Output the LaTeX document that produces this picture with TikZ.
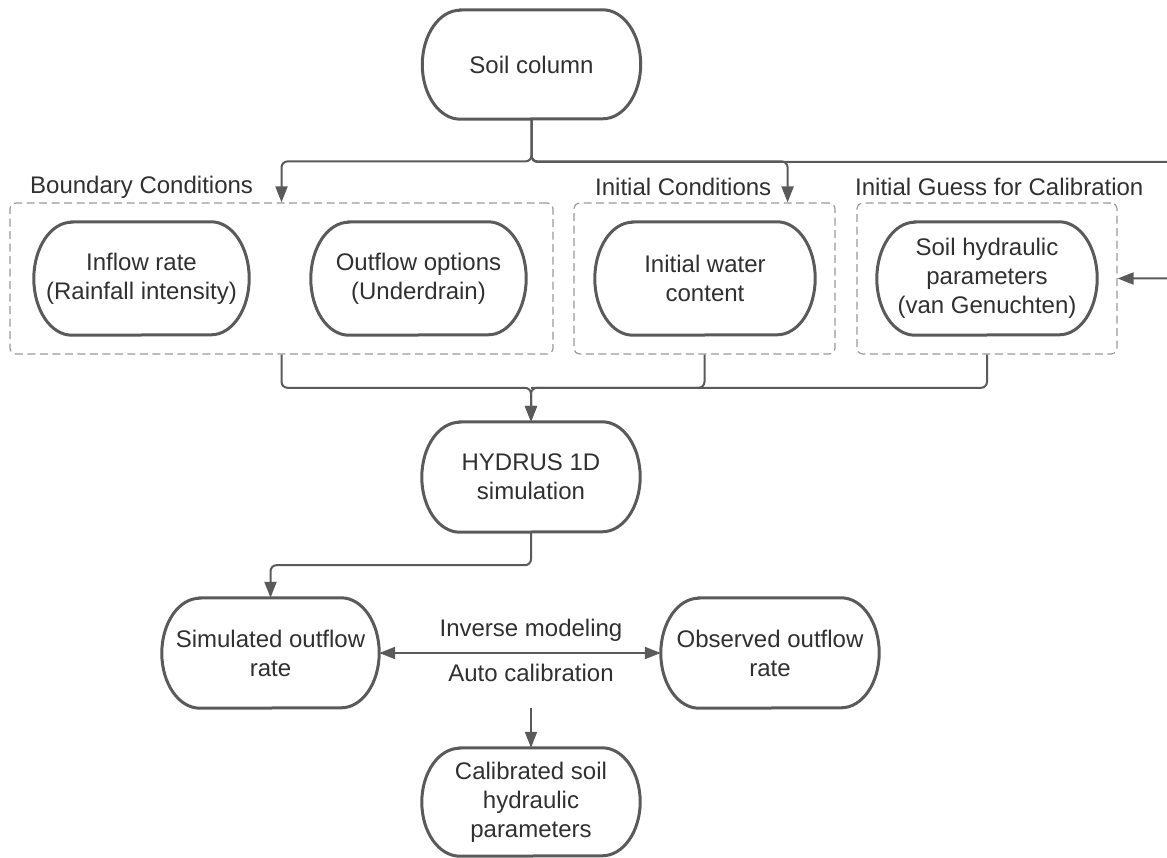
\documentclass[tikz,border=0pt]{standalone}
\usepackage{fontspec}
\setmainfont{Liberation Sans}
\usetikzlibrary{arrows.meta,calc}
\definecolor{strokec}{HTML}{5A5A5A}
\definecolor{txtc}{HTML}{303030}
\definecolor{dashc}{HTML}{9A9A9A}
\newcommand\termoutline[2][55]{%
  \draw[tline] ($(#2.north west)+(38,0)$) -- ($(#2.north east)+(-38,0)$)
    arc[start angle=-90,end angle=90,x radius=38,y radius=#1]
    -- ($(#2.south west)+(38,0)$)
    arc[start angle=90,end angle=270,x radius=38,y radius=#1] -- cycle;}
\begin{document}
\begin{tikzpicture}[x=1pt,y=-1pt,
  term/.style={rectangle, minimum width=218pt, minimum height=110pt,
    align=center, text=txtc, font=\fontsize{24}{29}\selectfont},
  tline/.style={draw=strokec, line width=3pt},
  group/.style={draw=dashc, line width=1.2pt, dash pattern=on 8pt off 4.5pt,
    rounded corners=6pt, rectangle, minimum height=151pt, inner sep=0pt},
  lbl/.style={text=txtc, font=\fontsize{24}{29}\selectfont, inner sep=0pt},
  conn/.style={draw=strokec, line width=2pt, rounded corners=6pt},
  arr/.style={conn, -{Triangle[length=16pt,width=12pt]}},
  darr/.style={conn, {Triangle[length=16pt,width=12pt]}-{Triangle[length=16pt,width=12pt]}},
]
\useasboundingbox (0,0) rectangle (1167,858);
\clip (0,0) rectangle (1167,858);

% groups
\node[group, minimum width=543pt] (box1) at (281.5,278.5) {};
\node[group, minimum width=261pt] (box2) at (704.5,278.5) {};
\node[group, minimum width=260pt] (box3) at (987,278.5) {};

% group labels
\node[lbl, anchor=west] (lbc) at (30,187) {Boundary Conditions};
\node[lbl, anchor=west] (lic) at (595,187) {Initial Conditions};
\node[lbl, anchor=west] (lig) at (855,187) {Initial Guess for Calibration};

% nodes
\node[term, minimum height=109pt] (soil) at (531.5,64.5) {Soil column};
\node[term, minimum height=113pt, minimum width=215pt] (inflow) at (141.5,278.5) {Inflow rate\\(Rainfall intensity)};
\node[term, minimum height=113pt, minimum width=215pt] (outflow) at (418.5,278.5) {Outflow options\\(Underdrain)};
\node[term, minimum height=113pt, minimum width=220pt] (iwc) at (705,278.5) {Initial water\\content};
\node[term, minimum height=113pt, minimum width=220pt] (shp) at (987,278.5) {Soil hydraulic\\parameters\\(van Genuchten)};
\node[term] (hyd) at (531,477) {HYDRUS 1D\\simulation};
\node[term, minimum width=217pt] (sim) at (270.5,653) {Simulated outflow\\rate};
\node[term, minimum width=218pt] (obs) at (770,653) {Observed outflow\\rate};
\node[term, minimum height=108pt] (cal) at (531,802) {Calibrated soil\\hydraulic\\parameters};

% outlines
\termoutline[54.5]{soil}
\termoutline[56.5]{inflow}
\termoutline[56.5]{outflow}
\termoutline[56.5]{iwc}
\termoutline[56.5]{shp}
\termoutline{hyd}
\termoutline{sim}
\termoutline{obs}
\termoutline[54]{cal}

% connectors from soil column
\coordinate (rtop) at (1178,162);
\draw[arr] (soil.south) |- ($(box1.north)+(0,-41)$) -- (box1.north);
\draw[arr] (soil.south) |- ($(box2.north east)+(-48,-41)$) -- ($(box2.north east)+(-48,0)$);
\draw[arr] (soil.south) |- (rtop) |- (box3.east);

% merge into HYDRUS
\draw[arr] (box1.south) |- ($(hyd.north)+(0,-34)$) -- (hyd.north);
\draw[arr] (box3.south) |- ($(hyd.north)+(0,-34)$) -- (hyd.north);
\draw[conn] (box2.south) |- ($(hyd.north)+(0,-34)$);

% HYDRUS to simulated
\draw[arr] (hyd.south) -- ++(0,33) -| (sim.north);

% inverse modeling
\draw[darr] (sim.east) -- (obs.west);
\node[lbl] (inv) at (531,630) {Inverse modeling};
\node[lbl] (auto) at (531,673) {Auto calibration};
\coordinate (cstart) at (531,708);
\draw[arr] (cstart) -- (cal.north);
\end{tikzpicture}
\end{document}
